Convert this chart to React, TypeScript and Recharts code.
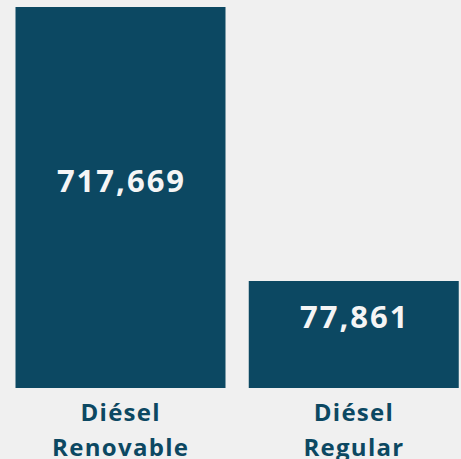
import { BarChart, Bar, XAxis, YAxis, LabelList } from 'recharts';

const categories = ['Diésel Renovable', 'Diésel Regular'];
const values = [717669, 77861];

const BAR_COLOR = '#0c4862';
const FONT = '"Open Sans", "DejaVu Sans", sans-serif';

const data = categories.map((name, i) => ({ name, value: values[i] }));

function CategoryTick(props: any) {
  const { x, y, payload } = props;
  const words = String(payload.value).split(' ');
  const first = words[0];
  const rest = words.slice(1).join(' ');
  return (
    <text
      x={x}
      y={y}
      textAnchor="middle"
      fill={BAR_COLOR}
      fontFamily={FONT}
      fontWeight={700}
      fontSize={24}
      letterSpacing={1.3}
    >
      <tspan x={x + 0.6} dy={33}>{first}</tspan>
      <tspan x={x + 0.6} dy={35}>{rest}</tspan>
    </text>
  );
}

function ValueLabel(props: any) {
  const { x, y, width, height, value } = props;
  return (
    <text
      x={x + width / 2 + 1}
      y={y + height / 2 - 18}
      textAnchor="middle"
      dominantBaseline="central"
      fill="#f5f5f5"
      fontFamily={FONT}
      fontWeight={700}
      fontSize={31}
      letterSpacing={2}
    >
      {Number(value).toLocaleString('en-US')}
    </text>
  );
}

export default function App() {
  return (
    <div
      style={{
        position: 'absolute',
        left: 0,
        top: 0,
        width: 461,
        height: 459,
        overflow: 'hidden',
        background: '#f0f0f0',
      }}
    >
      <BarChart
        width={470}
        height={459}
        data={data}
        margin={{ top: 7, right: 0, left: 3.5, bottom: 0 }}
      >
        <XAxis
          dataKey="name"
          axisLine={false}
          tickLine={false}
          tickSize={0}
          tickMargin={0}
          height={71}
          interval={0}
          tick={<CategoryTick />}
        />
        <YAxis hide scale="log" domain={[32700, 717669]} allowDataOverflow />
        <Bar dataKey="value" fill={BAR_COLOR} barSize={210} isAnimationActive={false}>
          <LabelList dataKey="value" content={<ValueLabel />} />
        </Bar>
      </BarChart>
    </div>
  );
}
